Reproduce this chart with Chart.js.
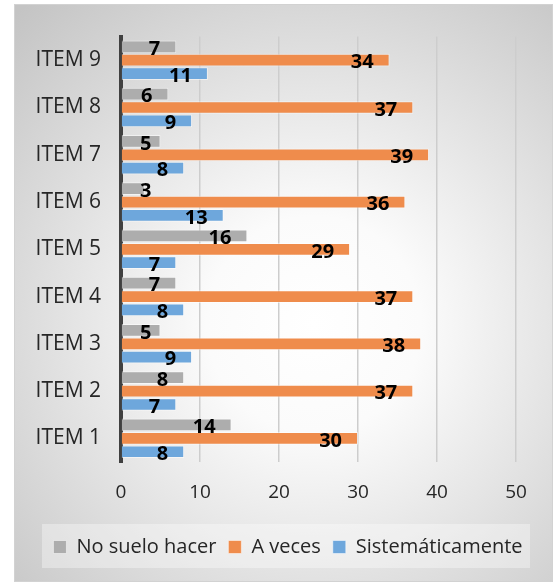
<!DOCTYPE html>
<html>
<head>
<meta charset="utf-8">
<script src="https://cdn.jsdelivr.net/npm/chart.js@4.4.0/dist/chart.umd.min.js"></script>
<style>
    html, body { margin: 0; padding: 0; background: #ffffff; }
    #wrap { position: absolute; left: 14px; top: 4px; width: 539px; height: 578px; }
</style>
</head>
<body>
<div id="wrap"><canvas id="itemsChart" width="539" height="578"></canvas></div>
<script>
// Items from top to bottom, as shown in the chart
const items = ['ITEM 9', 'ITEM 8', 'ITEM 7', 'ITEM 6', 'ITEM 5', 'ITEM 4', 'ITEM 3', 'ITEM 2', 'ITEM 1'];
const noSueloHacer = [7, 6, 5, 3, 16, 7, 5, 8, 14];
const aVeces = [34, 37, 39, 36, 29, 37, 38, 37, 30];
const sistematicamente = [11, 9, 8, 13, 7, 8, 9, 7, 8];
const xTicks = [0, 10, 20, 30, 40, 50];

const FONT = "'Open Sans', 'Noto Sans', sans-serif";

// Background with radial glow and the light box behind the legend
const backgroundPlugin = {
    id: 'background',
    afterLayout(chart) {
        // push the legend row a bit to the right, like the original
        const lg = chart.legend;
        if (lg) {
            lg.left += 23;
            lg.right += 23;
        }
    },
    beforeDraw(chart) {
        const ctx = chart.ctx;
        const w = chart.width, h = chart.height;
        ctx.save();
        const g = ctx.createRadialGradient(300, 320, 0, 300, 320, 430);
        g.addColorStop(0, '#ffffff');
        g.addColorStop(0.25, '#fbfbfb');
        g.addColorStop(1, '#c4c4c4');
        ctx.fillStyle = g;
        ctx.fillRect(0, 0, w, h);
        ctx.strokeStyle = '#d2d2d2';
        ctx.lineWidth = 1;
        ctx.strokeRect(0.5, 0.5, w - 1, h - 1);

        ctx.fillStyle = 'rgba(255,255,255,0.35)';
        ctx.fillRect(28, 520, 488, 44);
        ctx.restore();
    }
};

// Value labels near the end of each bar
const valueLabels = {
    id: 'valueLabels',
    afterDatasetsDraw(chart) {
        const ctx = chart.ctx;
        const axisLeft = chart.scales.x.getPixelForValue(0);
        ctx.save();
        ctx.font = 'bold 20px ' + FONT;
        ctx.fillStyle = '#000000';
        ctx.textAlign = 'right';
        ctx.textBaseline = 'middle';
        chart.data.datasets.forEach((ds, i) => {
            chart.getDatasetMeta(i).data.forEach((bar, j) => {
                const text = String(ds.data[j]);
                const tw = ctx.measureText(text).width;
                const right = Math.max(bar.x - 16, axisLeft + 19 + tw);
                ctx.fillText(text, right, bar.y + 2.5);
            });
        });
        ctx.restore();
    }
};

const ctx = document.getElementById('itemsChart').getContext('2d');
new Chart(ctx, {
    type: 'bar',
    data: {
        labels: items,
        datasets: [
            {
                label: 'No suelo hacer',
                data: noSueloHacer,
                backgroundColor: '#adadad',
                borderColor: 'rgba(255,255,255,0.5)',
                borderWidth: 1
            },
            {
                label: 'A veces',
                data: aVeces,
                backgroundColor: '#ef8c4c',
                borderColor: 'rgba(255,255,255,0.5)',
                borderWidth: 1
            },
            {
                label: 'Sistemáticamente',
                data: sistematicamente,
                backgroundColor: '#6ea7dc',
                borderColor: 'rgba(255,255,255,0.5)',
                borderWidth: 1
            }
        ]
    },
    options: {
        indexAxis: 'y',
        responsive: false,
        animation: false,
        layout: { padding: { left: 0, right: 37, top: 30, bottom: 15 } },
        datasets: {
            bar: { categoryPercentage: 0.85, barPercentage: 0.95 }
        },
        plugins: {
            legend: {
                position: 'bottom',
                labels: {
                    boxWidth: 13,
                    boxHeight: 13,
                    padding: 12,
                    color: '#262626',
                    font: { family: FONT, size: 20 }
                }
            },
            tooltip: { enabled: false }
        },
        scales: {
            x: {
                min: 0,
                max: 50,
                afterBuildTicks: axis => { axis.ticks = xTicks.map(v => ({ value: v })); },
                afterFit: axis => { axis.height = 63; },
                grid: { color: '#cdcdcd', lineWidth: 1.5, drawTicks: false },
                border: { display: false },
                ticks: {
                    padding: 19,
                    color: '#262626',
                    font: { family: FONT, size: 19 }
                }
            },
            y: {
                afterFit: axis => { axis.width = 107; },
                grid: { display: false, drawTicks: false },
                border: { display: true, color: '#404040', width: 4 },
                ticks: {
                    padding: 20,
                    color: '#262626',
                    font: { family: FONT, size: 21 }
                }
            }
        }
    },
    plugins: [backgroundPlugin, valueLabels]
});
</script>
</body>
</html>
